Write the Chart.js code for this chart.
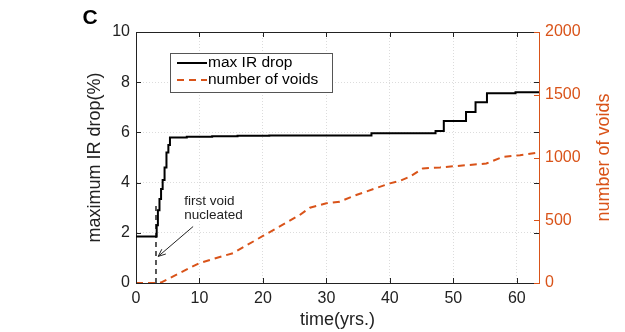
<!DOCTYPE html>
<html><head><meta charset="utf-8">
<script src="https://cdn.jsdelivr.net/npm/chart.js@4"></script>
<style>html,body{margin:0;padding:0;background:#fff}#wrap{width:625px;height:332px}</style>
</head><body><div id="wrap"><canvas id="c" width="625" height="332"></canvas></div>
<script>
// ---- data ----
const timeIR  = [0, 3.26, 3.45, 3.7, 3.95, 4.2, 4.5, 4.8, 5.1, 5.35, 8, 12, 16, 21, 37.1, 47.2, 48.5, 52, 53.5, 55.3, 59.8, 63.5];
const irDrop  = [1.85, 2.3, 2.9, 3.35, 3.75, 4.1, 4.6, 5.2, 5.5, 5.8, 5.83, 5.85, 5.87, 5.88, 5.97, 6.06, 6.45, 6.81, 7.2, 7.56, 7.6, 7.6];
const timeVoids = [0, 3.2, 4, 5.35, 10, 15.3, 20, 25.8, 27.4, 30, 32.1, 34.7, 40, 41.6, 43.1, 45.2, 47.9, 55.2, 57.8, 60.5, 63.5];
const voidCount = [0, 0, 5, 40, 159, 238, 375, 542, 600, 635, 648, 701, 794, 814, 846, 913, 921, 952, 1005, 1018, 1040];
const nucleationX = [3.15, 3.15];
const nucleationY = [0, 3.1];
const xTicks = [0, 10, 20, 30, 40, 50, 60];
const leftTicks = [0, 2, 4, 6, 8, 10];
const rightTicks = [0, 500, 1000, 1500, 2000];
const seriesLabels = ['max IR drop', 'number of voids'];
const annotationLines = ['first void', 'nucleated'];
const annotationTextAt = {x: 7.6, y: 3.24};
const arrowFrom = {x: 9.0, y: 2.25};
const arrowTo = {x: 3.5, y: 1.06};

const FONT = '"Liberation Sans", Arial, Helvetica, sans-serif';
const ORANGE = '#D95319';
const DARK = '#222';

const pts = (xs, ys) => xs.map((x, i) => ({x, y: ys[i]}));
const setTicks = arr => s => { s.ticks = arr.map(v => ({value: v})); };
const plain = v => String(v);

const overlay = {
  id: 'overlay',
  afterDraw(chart) {
    const {ctx, chartArea: a, scales} = chart;
    const x = scales.x, yl = scales.y, yr = scales.y2;
    ctx.save();
    ctx.lineWidth = 1;
    // top box line
    ctx.strokeStyle = DARK;
    ctx.beginPath(); ctx.moveTo(a.left, a.top + 0.5); ctx.lineTo(a.right, a.top + 0.5); ctx.stroke();
    const L = 5;
    ctx.beginPath();
    x.ticks.forEach(t => {
      const p = Math.round(x.getPixelForValue(t.value)) + 0.5;
      ctx.moveTo(p, a.bottom); ctx.lineTo(p, a.bottom - L);
      ctx.moveTo(p, a.top); ctx.lineTo(p, a.top + L);
    });
    yl.ticks.forEach(t => {
      const p = Math.round(yl.getPixelForValue(t.value)) + 0.5;
      ctx.moveTo(a.left, p); ctx.lineTo(a.left + L, p);
      ctx.moveTo(a.right, p); ctx.lineTo(a.right - L, p);
    });
    ctx.stroke();
    ctx.strokeStyle = ORANGE;
    ctx.beginPath();
    yr.ticks.forEach(t => {
      const p = Math.round(yr.getPixelForValue(t.value)) + 0.5;
      ctx.moveTo(a.right, p); ctx.lineTo(a.right - L, p);
    });
    ctx.stroke();

    // legend
    const lx = a.left + 34, ly = a.top + 21, lw = 162, lh = 39;
    ctx.fillStyle = '#fff';
    ctx.fillRect(lx, ly, lw, lh);
    ctx.strokeStyle = '#555';
    ctx.strokeRect(lx + 0.5, ly + 0.5, lw, lh);
    ctx.font = '15.5px ' + FONT;
    ctx.textBaseline = 'middle';
    ctx.textAlign = 'left';
    [0, 1].forEach(i => {
      const ds = chart.data.datasets[i];
      const yy = ly + 10 + i * 17;
      ctx.strokeStyle = ds.borderColor;
      ctx.lineWidth = 2;
      ctx.setLineDash(ds.borderDash || []);
      ctx.beginPath(); ctx.moveTo(lx + 7, yy); ctx.lineTo(lx + 37, yy); ctx.stroke();
      ctx.setLineDash([]);
      ctx.fillStyle = '#000';
      ctx.fillText(ds.label, lx + 38, yy);
    });

    // annotation
    ctx.fillStyle = DARK;
    ctx.font = '13.5px ' + FONT;
    const tx = x.getPixelForValue(annotationTextAt.x);
    const ty = yl.getPixelForValue(annotationTextAt.y);
    annotationLines.forEach((s, i) => ctx.fillText(s, tx, ty + i * 14));
    const x1 = x.getPixelForValue(arrowFrom.x), y1 = yl.getPixelForValue(arrowFrom.y);
    const x2 = x.getPixelForValue(arrowTo.x), y2 = yl.getPixelForValue(arrowTo.y);
    ctx.strokeStyle = DARK; ctx.lineWidth = 1;
    ctx.beginPath(); ctx.moveTo(x1, y1); ctx.lineTo(x2, y2);
    const ang = Math.atan2(y2 - y1, x2 - x1), h = 8;
    ctx.moveTo(x2 - h * Math.cos(ang - 0.4), y2 - h * Math.sin(ang - 0.4));
    ctx.lineTo(x2, y2);
    ctx.lineTo(x2 - h * Math.cos(ang + 0.4), y2 - h * Math.sin(ang + 0.4));
    ctx.stroke();

    // right axis title (reads bottom-to-top)
    ctx.save();
    ctx.translate(a.right + 65, (a.top + a.bottom) / 2);
    ctx.rotate(-Math.PI / 2);
    ctx.textAlign = 'center';
    ctx.fillStyle = ORANGE;
    ctx.font = '18px ' + FONT;
    ctx.fillText('number of voids', 0, 0);
    ctx.restore();

    // panel letter
    ctx.fillStyle = '#000';
    ctx.font = 'bold 21px ' + FONT;
    ctx.textAlign = 'center';
    ctx.fillText('C', 90, 18);
    ctx.restore();
  }
};

new Chart(document.getElementById('c'), {
  type: 'line',
  data: {
    datasets: [
      {label: seriesLabels[0], data: pts(timeIR, irDrop), yAxisID: 'y', borderColor: '#000', borderWidth: 2, stepped: 'before', pointRadius: 0, fill: false},
      {label: seriesLabels[1], data: pts(timeVoids, voidCount), yAxisID: 'y2', borderColor: ORANGE, borderWidth: 2, borderDash: [7, 5], pointRadius: 0, fill: false, tension: 0},
      {label: 'nucleation', data: pts(nucleationX, nucleationY), yAxisID: 'y', borderColor: DARK, borderWidth: 1.5, borderDash: [5, 4], pointRadius: 0, fill: false}
    ]
  },
  options: {
    responsive: false,
    devicePixelRatio: 1,
    animation: false,
    layout: {padding: {left: 0, right: 0, top: 32, bottom: 0}},
    plugins: {legend: {display: false}, tooltip: {enabled: false}},
    scales: {
      x: {
        type: 'linear', min: 0, max: 63.5,
        afterBuildTicks: setTicks(xTicks),
        afterFit: s => { s.height = 49; },
        grid: {color: '#dcdcdc', lineWidth: 1, drawTicks: false},
        border: {display: true, color: DARK, width: 1, dash: [1, 2]},
        ticks: {color: DARK, font: {family: FONT, size: 16}, padding: 6, maxRotation: 0, callback: plain},
        title: {display: true, text: 'time(yrs.)', color: DARK, font: {family: FONT, size: 18}, padding: {top: 0, bottom: 1}}
      },
      y: {
        type: 'linear', position: 'left', min: 0, max: 10,
        afterBuildTicks: setTicks(leftTicks),
        afterFit: s => { s.width = 136; },
        grid: {color: '#dcdcdc', lineWidth: 1, drawTicks: false},
        border: {display: true, color: DARK, width: 1, dash: [1, 2]},
        ticks: {color: DARK, font: {family: FONT, size: 16}, padding: 6, callback: plain},
        title: {display: true, text: 'maximum IR drop(%)', color: DARK, font: {family: FONT, size: 18}, padding: {top: 84, bottom: 0}}
      },
      y2: {
        type: 'linear', position: 'right', min: 0, max: 2000,
        afterBuildTicks: setTicks(rightTicks),
        afterFit: s => { s.width = 86; },
        grid: {display: false, drawTicks: false},
        border: {display: true, color: ORANGE, width: 1},
        ticks: {color: ORANGE, font: {family: FONT, size: 16}, padding: 6, callback: plain},
        title: {display: false}
      }
    }
  },
  plugins: [overlay]
});
</script>
</body></html>
